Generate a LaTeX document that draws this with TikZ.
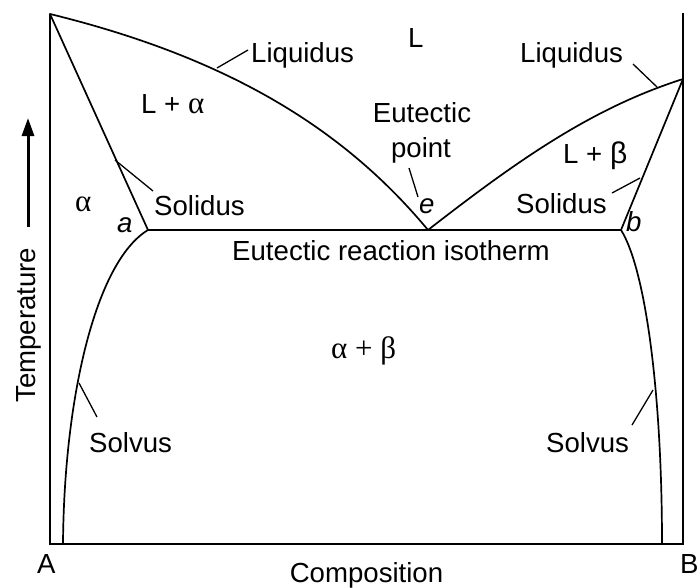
\documentclass[tikz,border=0pt]{standalone}
\usepackage{fontspec}
\setmainfont{Liberation Sans}
\newfontfamily\grk{Liberation Serif}
\newcommand{\grkbig}[1]{{\fontsize{31pt}{32pt}\selectfont\grk #1}}
\usetikzlibrary{arrows.meta}
\begin{document}
\begin{tikzpicture}[x=1pt,y=-1pt,
  lbl/.style={inner sep=0pt, anchor=base west, font=\fontsize{27.6pt}{32pt}\selectfont},
  clbl/.style={lbl, anchor=base},
  curve/.style={line width=1.7pt, line join=round, line cap=round},
  framel/.style={line width=2pt, line join=miter},
  leader/.style={line width=1.3pt}]
\useasboundingbox (0,0) rectangle (699,587);
\fill[white] (0,0) rectangle (699,587);
% key points
\coordinate (TA) at (50,14);
\coordinate (TB) at (683,79);
\coordinate (e) at (428,230);
\coordinate (a) at (148,230);
\coordinate (b) at (621,230);
\coordinate (A0) at (50,544);
\coordinate (B0) at (683,544);
\coordinate (Btop) at (683,13);
\coordinate (sa) at (63,544);
\coordinate (sb) at (662,544);
% frame
\draw[framel] (TA) -- (A0) -- (B0) -- (Btop);
% liquidus
\draw[curve] (TA) .. controls (230,58) and (345,130) .. (e);
\draw[curve] (e) .. controls (518,160) and (592,108) .. (TB);
% solidus
\draw[curve] (TA) -- (a);
\draw[curve] (TB) -- (b);
% isotherm
\draw[curve] (a) -- (b);
% solvus
\draw[curve] (a) .. controls (95,262) and (64,400) .. (sa);
\draw[curve] (b) .. controls (645,268) and (662,390) .. (sb);
% leader end points
\coordinate (liqL1) at (217,68);  \coordinate (liqL2) at (248,50);
\coordinate (liqR1) at (657,87);  \coordinate (liqR2) at (633,64);
\coordinate (eut1) at (418,197);  \coordinate (eut2) at (409,168);
\coordinate (solR1) at (640,178); \coordinate (solR2) at (612,193);
\coordinate (solL1) at (115,160); \coordinate (solL2) at (153,191);
\coordinate (svL1) at (79,383);   \coordinate (svL2) at (97,417);
\coordinate (svR1) at (653,390);  \coordinate (svR2) at (632,425);
\draw[leader] (liqL1) -- (liqL2);
\draw[leader] (liqR1) -- (liqR2);
\draw[leader] (eut1) -- (eut2);
\draw[leader] (solR1) -- (solR2);
\draw[leader] (solL1) -- (solL2);
\draw[leader] (svL1) -- (svL2);
\draw[leader] (svR1) -- (svR2);
% labels
\node[lbl] (liqLtext) at (251,62) {Liquidus};
\node[lbl] (Ltext) at (408,47) {L};
\node[lbl] (liqRtext) at (520,62) {Liquidus};
\node[lbl] (Lalpha) at (141,113) {L + \grkbig{α}};
\node[clbl] (eutA) at (422,122) {Eutectic};
\node[clbl] (eutB) at (421,157) {point};
\node[lbl] (etext) at (419,213) {\itshape e};
\node[lbl] (Lbeta) at (563,163) {L + {\fontsize{30pt}{32pt}\selectfont β}};
\node[lbl] (solRtext) at (516,213) {Solidus};
\node[lbl] (btext) at (626,231) {\itshape b};
\node[lbl] (solLtext) at (154,215) {Solidus};
\node[lbl] (alphatext) at (75,211) {\grkbig{α}};
\node[lbl] (atext) at (117,232) {\itshape a};
\node[clbl] (iso) at (391,260) {Eutectic reaction isotherm};
\node[lbl] (ab) at (331,358) {\grkbig{α + β}};
\node[lbl] (svLtext) at (89,452) {Solvus};
\node[lbl] (svRtext) at (546,452) {Solvus};
\node[lbl] (Atext) at (37,573) {A};
\node[lbl] (Btext) at (680,573) {B};
\node[clbl] (comp) at (366.5,582) {Composition};
\node[lbl, rotate=90] (temp) at (35,403) {Temperature};
% temperature arrow
\coordinate (arrS) at (28,227);
\coordinate (arrT) at (28,118);
\draw[line width=3pt, -{Triangle[width=12pt,length=18pt]}] (arrS) -- (arrT);
\end{tikzpicture}
\end{document}
